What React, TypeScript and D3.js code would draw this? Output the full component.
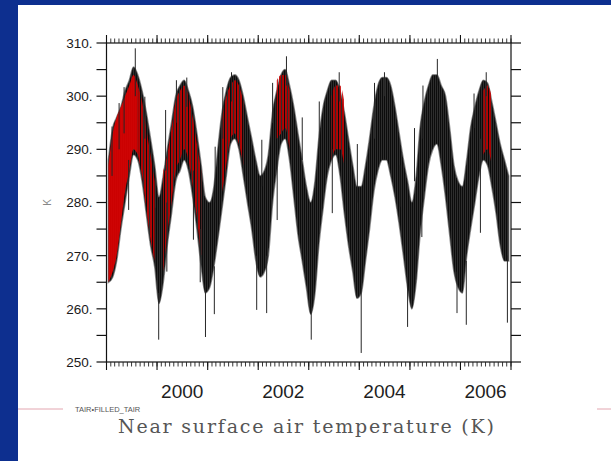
import React from "react";
import * as d3 from "d3";

// monthly envelope of the daily series (K), Jan 1999 .. Dec 2006
const upperK = [
  288, 294, 296, 298, 301, 303, 305.5, 304, 301, 297, 292, 287,
  281, 285, 290, 295, 300, 302, 303, 301, 298, 293, 287, 281,
  280, 283, 290, 297, 301, 303.5, 304, 303, 300, 296, 292, 288,
  285, 286, 289, 297, 301, 304, 305, 302, 298, 293, 288, 283,
  280, 284, 292, 298, 301, 303, 303, 301, 297, 292, 287, 283,
  283, 287, 292, 298, 302, 303.5, 303.5, 302, 298, 293, 288, 284,
  280, 285, 294, 299, 302, 304, 304, 302, 300, 294, 287, 284,
  283, 288, 294, 298, 301, 303, 302.5, 299, 295, 291, 288, 285,
];
const lowerK = [
  265, 266, 269, 275, 280, 285, 289, 288, 284, 278, 272, 268,
  261, 265, 272, 278, 284, 286, 288, 286, 281, 275, 268, 263,
  264, 268, 273, 279, 285, 291, 292, 290, 285, 280, 275, 269,
  266, 267, 270, 280, 286, 291, 292, 288, 281, 274, 269, 264,
  259, 263, 272, 279, 285, 288, 289, 285, 278, 272, 267, 262,
  263, 269, 275, 282, 286, 288, 288, 285, 281, 276, 270, 264,
  260, 265, 274, 281, 287, 290, 291, 287, 281, 274, 267, 264,
  263, 270, 275, 280, 285, 288, 287, 283, 278, 272, 269, 269,
];

// FILLED_TAIR showing through (red), null where only TAIR is seen
const n = null;
const filledUpper = [
  287, 293, 296, 298, 300, 302, 304, 302, 299, 294, 289, 284,
  n, 286, 289, 294, 299, 301, 302, 300, 296, 291, 286, n,
  n, n, n, 296, 300, 302, 303, 302, 299, n, n, n,
  n, n, n, n, 303, 304, 304, 301, n, n, n, n,
  n, n, n, n, n, 300, 302, 302, 299, n, n, n,
  n, n, n, n, n, n, n, n, n, n, n, n,
  n, n, n, n, n, n, n, n, n, n, n, n,
  n, n, n, n, n, 301, 302, 300, n, n, n, n,
];
const filledLower = [
  265, 267, 270, 276, 282, 286, 290, 289, 285, 279, 273, 269,
  n, 267, 274, 280, 286, 288, 290, 288, 283, 277, 270, n,
  n, n, n, 282, 287, 292, 293, 291, 287, n, n, n,
  n, n, n, n, 292, 293, 294, 290, n, n, n, n,
  n, n, n, n, n, 288, 290, 290, 287, n, n, n,
  n, n, n, n, n, n, n, n, n, n, n, n,
  n, n, n, n, n, n, n, n, n, n, n, n,
  n, n, n, n, n, 289, 290, 287, n, n, n, n,
];

// single-day excursions beyond the band
const spikeDates = [
  "1999-02-10", "1999-04-02", "1999-05-08", "1999-06-10", "1999-07-28",
  "1999-10-05", "1999-12-20", "2000-01-13", "2000-03-03", "2000-03-12",
  "2000-05-20", "2000-08-03", "2000-09-20", "2000-11-08", "2000-12-16",
  "2001-02-18", "2001-02-24", "2001-04-20", "2001-06-22", "2001-12-21",
  "2002-01-27", "2002-03-03", "2002-04-15", "2002-05-18", "2002-07-24",
  "2002-11-15", "2002-12-10", "2003-01-19", "2003-03-18", "2003-06-20",
  "2003-08-09", "2003-12-18", "2004-01-15", "2004-04-20", "2004-07-01",
  "2004-10-20", "2004-12-15", "2005-02-03", "2005-02-12", "2005-03-28",
  "2005-04-05", "2005-07-18", "2005-12-07", "2006-02-12", "2006-04-09",
  "2006-05-25", "2006-07-06", "2006-12-06",
];
const spikeFrom = [
  285, 290, 293, 288, 300, 292, 279, 263, 286, 280, 295, 298, 286, 275, 264,
  268, 280, 292, 299, 270, 283, 270, 295, 289, 302, 288, 270, 261, 290, 290,
  299, 280, 264, 292, 300, 287, 266, 284, 270, 280, 292, 302, 267, 269, 294,
  292, 300, 270,
];
const spikeTo = [
  294.3, 298.7, 301.7, 278.6, 309, 299.9, 268, 254.2, 297.4, 267, 303, 303.5, 273, 265, 254.7,
  259, 290.5, 301.7, 304.5, 259.8, 291.8, 259.2, 302.5, 276.7, 307.5, 296, 265.5, 254.2, 299, 278,
  304.5, 291, 251.7, 302.5, 304.5, 279.2, 256.6, 294, 265.5, 273.5, 302, 307, 259.2, 257, 300.5,
  274.3, 304.5, 257.4,
];

const yMajor = [250, 260, 270, 280, 290, 300, 310];
const yMinor = [255, 265, 275, 285, 295, 305];
const xLabelYears = [2000, 2002, 2004, 2006];

const W = 611;
const H = 461;
const L = 106.5;
const R = 511;
const T = 43;
const B = 362;

export default function App() {
  const x = d3
    .scaleTime()
    .domain([new Date(1999, 0, 1), new Date(2007, 0, 1)])
    .range([L, R]);
  const y = d3.scaleLinear().domain([250, 310]).range([B, T]);

  const months = upperK.map((_, i) => new Date(1999, i, 15));

  const band = d3
    .area<number>()
    .x((i) => x(months[i]))
    .y0((i) => y(lowerK[i]))
    .y1((i) => y(upperK[i]))
    .curve(d3.curveMonotoneX);

  const filledArea = (from: number, to: number) =>
    d3
      .area<number>()
      .defined((i) => filledUpper[i] != null && i >= from && i <= to)
      .x((i) => x(months[i]))
      .y0((i) => y(filledLower[i] as number))
      .y1((i) => y(filledUpper[i] as number))
      .curve(d3.curveMonotoneX);

  const idx = d3.range(months.length);
  const yearTicks = x.ticks(d3.timeYear.every(1)!);
  const monthTicks = x.ticks(d3.timeMonth.every(1)!);
  const parse = d3.timeParse("%Y-%m-%d");

  return (
    <svg width={W} height={H} style={{ position: "absolute", left: 0, top: 0 }}>
      <defs>
        <clipPath id="plot">
          <rect x={L} y={T} width={R - L} height={B - T} />
        </clipPath>
        <pattern id="tex" width="2" height="7" patternUnits="userSpaceOnUse">
          <rect width="2" height="7" fill="#3c3c3c" />
          <rect width="1.3" height="7" fill="#0c0c0c" />
        </pattern>
        <pattern id="redtex" width="3" height="7" patternUnits="userSpaceOnUse">
          <rect width="2" height="7" fill="#c80000" />
        </pattern>
      </defs>

      <rect width={W} height={H} fill="#0d2f8f" />
      <rect x={18} y={5} width={W - 18} height={H - 5} fill="#ffffff" />

      <g clipPath="url(#plot)">
        <path
          d={band(idx) ?? ""}
          fill="url(#tex)"
          stroke="#333"
          strokeOpacity={0.55}
          strokeWidth={1.6}
        />
        <path d={filledArea(0, 7)(idx) ?? ""} fill="#e00000" opacity={0.9} />
        <path d={filledArea(7, 95)(idx) ?? ""} fill="url(#redtex)" opacity={0.85} />
        {spikeDates.map((d, i) => {
          const px = x(parse(d) as Date);
          return (
            <line
              key={d}
              x1={px}
              x2={px}
              y1={y(spikeFrom[i])}
              y2={y(spikeTo[i])}
              stroke="#262626"
              strokeWidth={1}
            />
          );
        })}
      </g>

      {/* frame */}
      <rect x={L} y={T} width={R - L} height={B - T} fill="none" stroke="#111" strokeWidth={1.2} />

      {/* y ticks on both sides */}
      {[...yMajor, ...yMinor].map((v) => (
        <g key={v}>
          <line x1={L - 10} x2={L} y1={y(v)} y2={y(v)} stroke="#111" strokeWidth={1.2} />
          <line x1={R} x2={R + 10} y1={y(v)} y2={y(v)} stroke="#111" strokeWidth={1.2} />
        </g>
      ))}
      {yMajor.map((v) => (
        <text
          key={v}
          x={L - 14}
          y={y(v)}
          dy="0.36em"
          textAnchor="end"
          fontFamily="Liberation Sans, Arial, sans-serif"
          fontSize={13.5}
          fill="#1a1a1a"
        >
          {v}.
        </text>
      ))}
      <text
        transform={`translate(51,${(T + B) / 2}) rotate(-90)`}
        textAnchor="middle"
        fontFamily="Liberation Sans, Arial, sans-serif"
        fontSize={10}
        fill="#888"
      >
        K
      </text>

      {/* x ticks: monthly minor, yearly major, top and bottom */}
      {monthTicks.map((d) => (
        <g key={+d}>
          <line x1={x(d)} x2={x(d)} y1={B} y2={B + 4.5} stroke="#222" strokeWidth={0.9} />
          <line x1={x(d)} x2={x(d)} y1={T} y2={T - 4.5} stroke="#222" strokeWidth={0.9} />
        </g>
      ))}
      {yearTicks.map((d) => (
        <g key={+d}>
          <line x1={x(d)} x2={x(d)} y1={B} y2={B + 8} stroke="#111" strokeWidth={1.1} />
          <line x1={x(d)} x2={x(d)} y1={T} y2={T - 8} stroke="#111" strokeWidth={1.1} />
        </g>
      ))}
      {xLabelYears.map((yr) => (
        <text
          key={yr}
          x={x(new Date(yr, 6, 1))}
          y={398}
          textAnchor="middle"
          fontFamily="Liberation Sans, Arial, sans-serif"
          fontSize={19}
          fill="#1e1e1e"
        >
          {yr}
        </text>
      ))}

      <line x1={18} x2={63} y1={409} y2={409} stroke="#e3a6b0" strokeWidth={1} />
      <line x1={597} x2={611} y1={409} y2={409} stroke="#e3a6b0" strokeWidth={1} />
      <text x={75} y={412} fontFamily="Liberation Sans, Arial, sans-serif" fontSize={7.5} fill="#555">
        TAIR•FILLED_TAIR
      </text>
      <text
        x={306}
        y={433}
        textAnchor="middle"
        textLength={376}
        lengthAdjust="spacing"
        fontFamily="DejaVu Serif, Liberation Serif, serif"
        fontSize={19}
        fill="#555"
      >
        Near surface air temperature (K)
      </text>
    </svg>
  );
}
